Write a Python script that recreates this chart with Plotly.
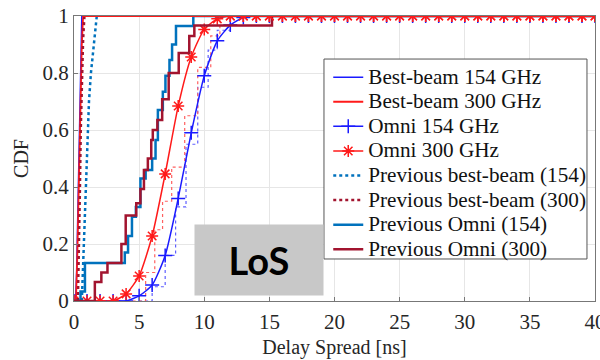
import plotly.graph_objects as go

# ---------------- data ----------------
omni_x = list(range(0, 41))
omni154_y = [0, 0, 0, 0, 0, 0.018, 0.056, 0.16, 0.36, 0.59, 0.79, 0.913, 0.968, 0.995] + [1] * 27
omni300_y = [0, 0, 0, 0, 0.025, 0.088, 0.228, 0.446, 0.684, 0.856, 0.953, 0.99] + [1] * 29

bb154_x = [0, 0.12, 0.2, 0.28, 0.36, 0.44, 0.52, 0.6, 40]
bb154_y = [0, 0, 0.1, 0.3, 0.5, 0.7, 0.9, 1, 1]
bb300_x = [0, 0.15, 0.25, 0.35, 0.43, 0.5, 0.6, 0.7, 40]
bb300_y = [0, 0, 0.15, 0.35, 0.55, 0.72, 0.9, 1, 1]

prev_bb154_x = [0.6, 0.68, 0.76, 0.88, 1.0, 1.15, 1.3, 1.5, 1.75]
prev_bb154_y = [0, 0.1, 0.24, 0.4, 0.54, 0.7, 0.8, 0.9, 1.0]
prev_bb300_x = [0.3, 0.38, 0.45, 0.52, 0.6, 0.7, 0.8]
prev_bb300_y = [0, 0.15, 0.38, 0.6, 0.78, 0.92, 1]

prev_omni154_x = [0, 0.5, 0.84, 3.9, 4.15, 4.45, 4.75, 5.1, 5.5, 6.0, 6.26, 6.44, 6.82, 7.02, 7.33, 7.53, 7.83, 9.16, 40]
prev_omni154_y = [0, 0.033, 0.133, 0.17, 0.228, 0.296, 0.33, 0.43, 0.46, 0.5, 0.565, 0.67, 0.734, 0.79, 0.846, 0.9, 0.965, 1, 1]

prev_omni300_x = [0, 1.6, 2.1, 2.57, 3.64, 3.97, 4.78, 5.1, 5.37, 5.67, 5.93, 6.05, 6.4, 6.77, 7.27, 8.04, 8.85, 9.24, 15.2, 40]
prev_omni300_y = [0, 0.067, 0.1, 0.133, 0.2, 0.3, 0.343, 0.393, 0.46, 0.5, 0.565, 0.6, 0.635, 0.708, 0.8, 0.87, 0.93, 0.967, 1, 1]

# empirical (unlabelled) dotted CDFs near the omni curves
emp154_x = [5, 6, 7, 7.8, 8.6, 9.5, 10.3, 11, 12]
emp154_y = [0, 0.05, 0.16, 0.33, 0.55, 0.75, 0.88, 0.95, 1]
emp300_x = [4.5, 5.5, 6.2, 6.8, 7.5, 8.5, 9.5, 10.5, 11.2]
emp300_y = [0, 0.1, 0.25, 0.35, 0.47, 0.65, 0.82, 0.93, 1]

x_ticks = [0, 5, 10, 15, 20, 25, 30, 35, 40]
y_ticks = [0, 0.2, 0.4, 0.6, 0.8, 1]
y_ticklabels = ["0", "0.2", "0.4", "0.6", "0.8", "1"]

legend_names = ["Best-beam 154 GHz", "Best-beam 300 GHz", "Omni 154 GHz", "Omni 300 GHz",
                "Previous best-beam (154)", "Previous best-beam (300)",
                "Previous Omni (154)", "Previous Omni (300)"]

# ---------------- figure ----------------
BLUE = "#1a1aff"
RED = "#ff1a1a"
MBLUE = "#0072BD"
MRED = "#A2142F"
SERIF = "Liberation Serif"


def lname(s):
    return '<span style="font-size:21.2px">' + s + '</span>'


fig = go.Figure()

fig.add_trace(go.Scatter(x=emp154_x, y=emp154_y, mode="lines", line=dict(color="#6060ff", width=1.2, dash="dot", shape="hv"),
                         showlegend=False, hoverinfo="skip"))
fig.add_trace(go.Scatter(x=emp300_x, y=emp300_y, mode="lines", line=dict(color="#ff6060", width=1.2, dash="dot", shape="hv"),
                         showlegend=False, hoverinfo="skip"))

fig.add_trace(go.Scatter(x=bb154_x, y=bb154_y, mode="lines", name=lname(legend_names[0]),
                         line=dict(color=BLUE, width=1.5)))
fig.add_trace(go.Scatter(x=bb300_x, y=bb300_y, mode="lines", name=lname(legend_names[1]),
                         line=dict(color=RED, width=1.8)))
fig.add_trace(go.Scatter(x=omni_x, y=omni154_y, mode="lines+markers", name=lname(legend_names[2]),
                         line=dict(color=BLUE, width=1.5, shape="spline", smoothing=0.6),
                         marker=dict(symbol="cross-thin", size=10, line=dict(color=BLUE, width=1.5))))
fig.add_trace(go.Scatter(x=omni_x, y=omni300_y, mode="lines+markers", name=lname(legend_names[3]),
                         line=dict(color=RED, width=1.5, shape="spline", smoothing=0.6),
                         marker=dict(symbol="asterisk", size=10, line=dict(color=RED, width=1.5))))
fig.add_trace(go.Scatter(x=prev_bb154_x, y=prev_bb154_y, mode="lines", name=lname(legend_names[4]),
                         line=dict(color=MBLUE, width=2.5, dash="dot")))
fig.add_trace(go.Scatter(x=prev_bb300_x, y=prev_bb300_y, mode="lines", name=lname(legend_names[5]),
                         line=dict(color=MRED, width=2.5, dash="dot")))
fig.add_trace(go.Scatter(x=prev_omni154_x, y=prev_omni154_y, mode="lines", name=lname(legend_names[6]),
                         line=dict(color=MBLUE, width=2.5, shape="hv")))
fig.add_trace(go.Scatter(x=prev_omni300_x, y=prev_omni300_y, mode="lines", name=lname(legend_names[7]),
                         line=dict(color=MRED, width=2.5, shape="hv")))
fig.add_trace(go.Scatter(x=bb300_x[-2:], y=bb300_y[-2:], mode="lines", line=dict(color=RED, width=1.8),
                         showlegend=False, hoverinfo="skip"))
fig.add_trace(go.Scatter(x=omni_x[12:], y=omni300_y[12:], mode="markers",
                         marker=dict(symbol="asterisk", size=10, line=dict(color=RED, width=1.5)),
                         showlegend=False, hoverinfo="skip"))

# legend frame (white box with border) drawn above the data
fig.add_shape(type="rect", xref="paper", yref="paper", x0=0.4798, x1=0.9846, y0=0.1474, y1=0.849,
              fillcolor="white", line=dict(color="#555555", width=1), layer="above")

fig.add_annotation(x=14.2, y=0.144, xref="x", yref="y", text="<b>LoS</b>", showarrow=False,
                   font=dict(family="Lato", size=38, color="black"),
                   bgcolor="#c8c8c8", width=126, height=68, align="center", valign="middle")

fig.update_layout(
    width=600, height=360,
    margin=dict(l=74, r=5, t=16, b=59, autoexpand=False),
    paper_bgcolor="white", plot_bgcolor="white",
    font=dict(family=SERIF, size=20, color="#262626"),
    legend=dict(x=0.488, y=0.846, xanchor="left", yanchor="top",
                bgcolor="rgba(0,0,0,0)", borderwidth=0,
                font=dict(family=SERIF, size=16.6, color="#111111"),
                tracegroupgap=0, itemwidth=30),
    showlegend=True,
)
fig.update_xaxes(range=[0, 40], tickvals=x_ticks, ticktext=[str(v) for v in x_ticks],
                 automargin=False,
                 showgrid=True, gridcolor="#e6e6e6", gridwidth=1,
                 showline=True, linecolor="#777777", linewidth=1, mirror=True,
                 ticks="inside", ticklen=4, tickcolor="#777777",
                 zeroline=False, ticklabelstandoff=2, ticklabeloverflow="allow",
                 tickfont=dict(family=SERIF, size=21, color="#262626"),
                 title=dict(text="Delay Spread [ns]", font=dict(family=SERIF, size=20, color="#262626"), standoff=6))
fig.update_yaxes(range=[0, 1], tickvals=y_ticks, ticktext=y_ticklabels,
                 automargin=False,
                 showgrid=True, gridcolor="#e6e6e6", gridwidth=1,
                 showline=True, linecolor="#777777", linewidth=1, mirror=True,
                 ticks="inside", ticklen=4, tickcolor="#777777",
                 zeroline=False,
                 tickfont=dict(family=SERIF, size=21, color="#262626"),
                 title=dict(text="CDF", font=dict(family=SERIF, size=20, color="#262626"), standoff=8))

fig.write_html("out.html")
